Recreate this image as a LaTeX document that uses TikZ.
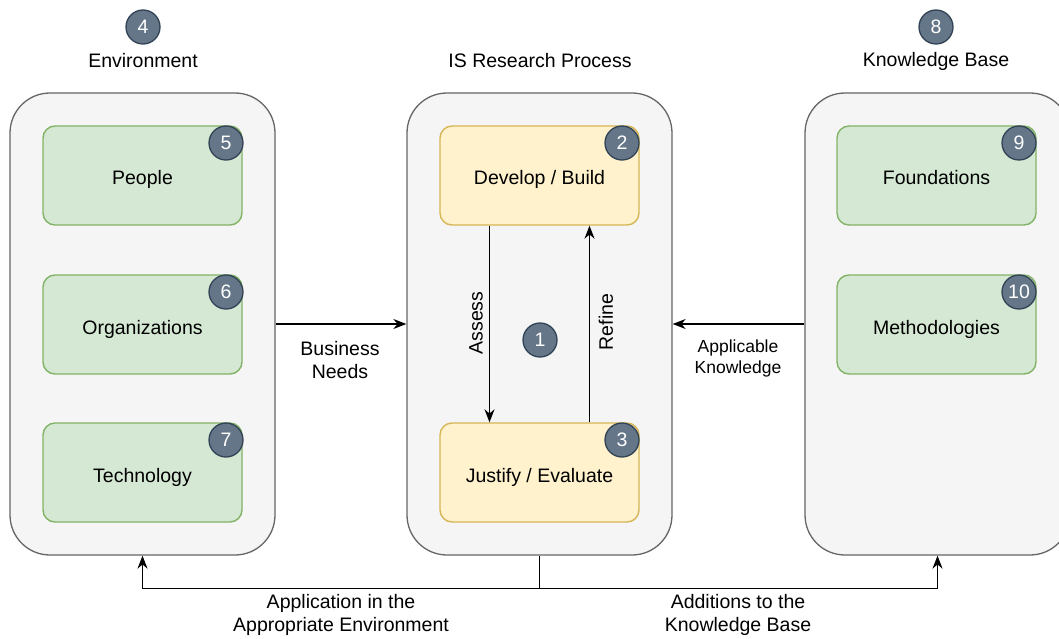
\documentclass[tikz,border=0pt]{standalone}
\usepackage{fontspec}
\setmainfont{Liberation Sans}
\usetikzlibrary{arrows.meta}
\definecolor{panelfill}{HTML}{F5F5F5}
\definecolor{panelline}{HTML}{666666}
\definecolor{greenfill}{HTML}{D5E8D4}
\definecolor{greenline}{HTML}{82B366}
\definecolor{yellowfill}{HTML}{FFF2CC}
\definecolor{yellowline}{HTML}{D6B656}
\definecolor{badgefill}{HTML}{647687}
\definecolor{badgeline}{HTML}{314354}
\begin{document}
\begin{tikzpicture}[x=1pt,y=-1pt,
  font=\fontsize{19.5}{23}\selectfont,
  panel/.style={draw=panelline, fill=panelfill, line width=1.3pt, rounded corners=40pt,
    minimum width=265pt, minimum height=462pt, inner sep=0pt},
  itembox/.style={line width=1.4pt, rounded corners=12pt,
    minimum width=199pt, minimum height=99pt, inner sep=0pt,
    text height=19pt, text depth=0pt},
  greenbox/.style={itembox, draw=greenline, fill=greenfill},
  yellowbox/.style={itembox, draw=yellowline, fill=yellowfill},
  badge/.style={circle, fill=badgefill, draw=badgeline, line width=1.3pt, minimum size=34pt,
    inner sep=0pt, text=white},
  flow/.style={-{Stealth[length=13pt,width=10pt]}, line width=1.3pt},
  link/.style={line width=1.3pt},
  caption/.style={align=center, inner sep=0pt},
  smallcaption/.style={align=center, inner sep=0pt, font=\fontsize{17.5}{21}\selectfont}
]
\useasboundingbox (0,0) rectangle (1059,639);
\fill[white] (0,0) rectangle (1059,639);

% column headings
\node[badge] (b4) at (143,27) {4};
\node[caption] (tenv) at (143,61) {Environment};
\node[caption] (tproc) at (540,61) {IS Research Process};
\node[badge] (b8) at (936,27) {8};
\node[caption] (tkb) at (936,61) {Knowledge Base};

% panels
\node[panel] (env) at (142.5,324) {};
\node[panel] (proc) at (539.5,324) {};
\node[panel] (kb) at (937.5,324) {};

% environment
\node[greenbox] (people) at (142.5,175.5) {People};
\node[greenbox] (org) at (142.5,324.5) {Organizations};
\node[greenbox] (tech) at (142.5,472.5) {Technology};
\node[badge] (b5) at (226,143) {5};
\node[badge] (b6) at (226,292) {6};
\node[badge] (b7) at (226,440) {7};

% research process
\node[yellowbox] (dev) at (539.5,175.5) {Develop / Build};
\node[yellowbox] (jus) at (539.5,472.5) {Justify / Evaluate};
\node[badge] (b2) at (622,143) {2};
\node[badge] (b3) at (622,440) {3};
\node[badge] (b1) at (540,340) {1};

% knowledge base
\node[greenbox] (found) at (936.5,175.5) {Foundations};
\node[greenbox] (meth) at (936.5,324.5) {Methodologies};
\node[badge] (b9) at (1019,143) {9};
\node[badge] (b10) at (1019,292) {10};

% inner cycle
\draw[flow] ([xshift=-50pt]dev.south) -- ([xshift=-50pt]jus.north);
\draw[flow] ([xshift=50pt]jus.north) -- ([xshift=50pt]dev.south);
\node[caption, rotate=90] (assess) at (476,323) {Assess};
\node[caption, rotate=90] (refine) at (606,322) {Refine};

% inputs
\draw[flow] (env.east) -- (proc.west);
\node[caption] (needs) at (340,360) {Business\\Needs};
\draw[flow] (kb.west) -- (proc.east);
\node[smallcaption] (applic) at (738,358) {Applicable\\Knowledge};

% outputs
\draw[link] (proc.south) -- ++(0,33) coordinate (split);
\draw[flow] (split) -| (env.south);
\draw[flow] (split) -| (kb.south);
\node[caption] (appl) at (341,615) {Application in the\\Appropriate Environment};
\node[caption] (add) at (738,615) {Additions to the\\Knowledge Base};
\end{tikzpicture}
\end{document}
